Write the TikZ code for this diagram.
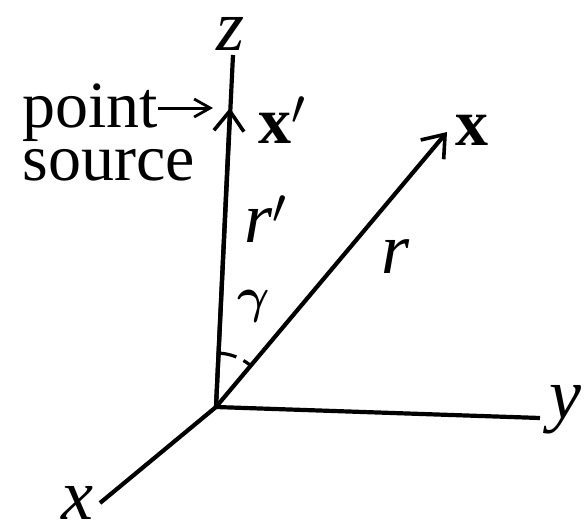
\documentclass[tikz,border=0pt]{standalone}
\usepackage{fontspec}
\setmainfont{Liberation Serif}
\usetikzlibrary{arrows.meta}
\begin{document}
\begin{tikzpicture}
	[x=0.5pt,y=-0.5pt,
	axis/.style={line width=2.1pt},
	vec/.style={line width=2.1pt,-{Straight Barb[length=10pt,width=15pt,line width=1.8pt]}},
	pointer/.style={line width=1.5pt,-{Straight Barb[length=8pt,width=9pt,line width=1.4pt]}},
	anglearc/.style={line width=1.6pt,dash pattern=on 9pt off 4pt},
	lbl/.style={font=\fontsize{36}{40}\selectfont\itshape,inner sep=0pt},
	txt/.style={font=\fontsize{33}{38}\selectfont,inner sep=0pt}]
	\useasboundingbox (0,0) rectangle (586,527);
	\coordinate (O) at (216,407);
	\coordinate (Z) at (233,55);
	\coordinate (Y) at (540,418);
	\coordinate (X) at (100,503);
	\coordinate (P) at (230,108);
	\coordinate (Q) at (447,132);
	\coordinate (S) at (213,108);
	\draw[axis] (O) -- (Z);
	\draw[axis] (O) -- (Y);
	\draw[axis] (O) -- (X);
	\draw[vec] (O) -- (P);
	\draw[vec] (O) -- (Q);
	\draw[anglearc] (O) ++(-87:54) arc[start angle=-87,end angle=-51,radius=54];
	\node[lbl] (zlabel) at (231,34) {z};
	\node[lbl] (ylabel) at (565,410) {y};
	\node[lbl] (xlabel) at (77,503) {x};
	\node[lbl,anchor=base west] (rplabel) at (244,242) {r$'$};
	\node[lbl,anchor=base west] (rlabel) at (381,273) {r};
	\node[txt,font=\fontsize{35}{38}\selectfont\boldmath] (gamma) at (254,306) {$\gamma$};
	\node[txt,anchor=base west] (xplabel) at (258,143) {\textbf{x}$'$};
	\node[txt] (xvlabel) at (472,130) {\textbf{x}};
	\node[txt,anchor=base west] (point) at (22,127) {point};
	\node[txt,anchor=base west] (source) at (22,180) {source};
	\draw[pointer] (point.east |- S) -- (S);
\end{tikzpicture}
\end{document}
